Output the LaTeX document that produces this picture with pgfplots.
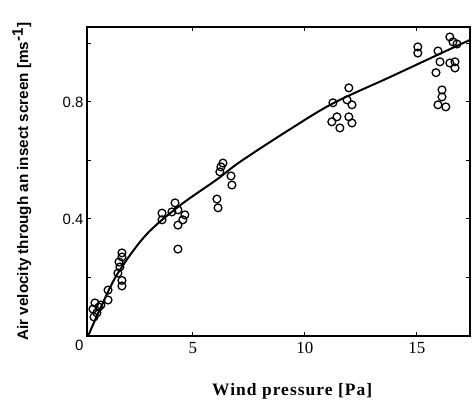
\documentclass[border=0pt]{standalone}
\usepackage{pgfplots}
\pgfplotsset{compat=1.18}
\usepackage{fontspec}
\setmainfont{Liberation Serif}
\newfontfamily\lsans{Liberation Sans}
\newfontfamily\lspaced[LetterSpace=6]{Liberation Serif}

\begin{document}
\begin{tikzpicture}
  \begin{axis}[
    scale only axis,
    width=383bp, height=309bp,
    xmin=0.27, xmax=17.37,
    ymin=0, ymax=1.056,
    axis line style={line width=1.3bp},
    tick style={line width=1bp, black},
    tick align=inside,
    major tick length=4bp,
    xtick={5,10,15},
    ytick={0.2,0.4,0.6,0.8,1.0},
    yticklabels={,0.4,,0.8,},
    extra y ticks={0},
    extra y tick labels={0},
    extra y tick style={tick label style={yshift=-9bp, font=\fontsize{17}{17}\selectfont}, major tick length=0pt},
    /pgf/number format/assume math mode=true,
    xticklabel style={font=\fontsize{17}{17}\selectfont, yshift=-3bp},
    yticklabel style={font=\lsans\fontsize{15}{15}\selectfont},
    xlabel={\textbf{Wind pressure [Pa]}},
    xlabel style={at={(axis description cs:0.537,-0.178)}, anchor=center,
      font=\lspaced\fontsize{17.5}{17.5}\selectfont},
    ylabel={\textbf{Air velocity through an insect screen [ms$^{\textbf{-1}}$]}},
    ylabel style={at={(axis description cs:-0.170,0.5)}, anchor=center,
      font=\lsans\fontsize{15.3}{15.3}\selectfont},
  ]

    % fitted curve
    \addplot[black, line width=2bp, smooth, tension=0.55] coordinates {
      (0.32,0) (0.9,0.1) (1.65,0.215) (2.9,0.345) (4.4,0.445)
      (6.07,0.535) (7.1,0.595) (9.2,0.70) (11.25,0.795) (13.8,0.885)
      (15.9,0.96) (17.37,1.012)
    };

    % measurements
    \addplot[only marks, mark=o, mark size=3.9bp, mark options={line width=1.3bp, black}]
      coordinates {
      (0.625,0.113) (0.536,0.092) (0.80,0.099) (0.714,0.079) (0.58,0.065) (0.89,0.106)
      (1.21,0.157) (1.21,0.123)
      (1.83,0.284) (1.83,0.27) (1.70,0.253) (1.65,0.215) (1.83,0.19) (1.83,0.171) (1.74,0.236)
      (3.62,0.42) (3.62,0.397) (4.20,0.455) (4.06,0.424) (4.33,0.431) (4.64,0.414)
      (4.55,0.397) (4.33,0.379) (4.33,0.297)
      (6.07,0.468) (6.12,0.438) (6.25,0.578) (6.34,0.591) (6.20,0.561) (6.70,0.547) (6.74,0.516)
      (11.25,0.797) (11.43,0.749) (11.20,0.732) (11.56,0.711) (11.96,0.749) (12.10,0.728)
      (11.96,0.848) (11.88,0.807) (12.10,0.79)
      (15.04,0.988) (15.04,0.967) (15.94,0.974) (16.03,0.937) (15.85,0.90)
      (16.47,1.022) (16.61,1.005) (16.79,0.998) (16.47,0.933) (16.70,0.937) (16.70,0.916)
      (16.12,0.841) (16.12,0.817) (15.94,0.79) (16.29,0.783)
    };

  \end{axis}
  \pgfresetboundingbox
  \path[use as bounding box]
    ([shift={(-87bp,-67bp)}]current axis.south west)
    rectangle ([shift={(5bp,27bp)}]current axis.north east);
\end{tikzpicture}
\end{document}
